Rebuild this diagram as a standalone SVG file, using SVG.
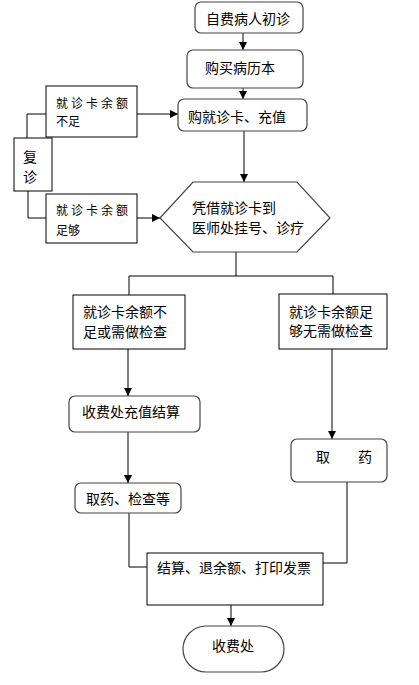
<svg xmlns="http://www.w3.org/2000/svg" width="419" height="685" viewBox="0 0 419 685">
<defs>
<marker id="ah" markerWidth="8" markerHeight="8" refX="8" refY="4" orient="auto" markerUnits="userSpaceOnUse">
<path d="M0,0 L8,4 L0,8 Z" fill="#000"/>
</marker>
<style>
text{font-family:"Noto Sans CJK SC","Noto Sans CJK JP",sans-serif;font-size:14px;fill:#000}
.b{fill:#fff;stroke:#000;stroke-width:1}
.r{fill:#fff;stroke:#444;stroke-width:1.2}
.c{fill:none;stroke:#000;stroke-width:1}
.s{font-size:12px}
.sp{letter-spacing:3px}
</style>
</defs>
<rect width="419" height="685" fill="#fff"/>
<g id="connectors">
<line class="c" x1="243" y1="33" x2="243" y2="50" marker-end="url(#ah)"/>
<line class="c" x1="243" y1="88" x2="243" y2="99" marker-end="url(#ah)"/>
<line class="c" x1="137" y1="114" x2="178" y2="114" marker-end="url(#ah)"/>
<polyline class="c" points="27,138 27,114 46,114"/>
<polyline class="c" points="28,191 28,218 46,218"/>
<line class="c" x1="137" y1="218" x2="160" y2="218" marker-end="url(#ah)"/>
<line class="c" x1="244" y1="131" x2="244" y2="182" marker-end="url(#ah)"/>
<polyline class="c" points="236,252 236,276"/>
<polyline class="c" points="129,295 129,276 333,276 333,294"/>
<line class="c" x1="128" y1="349" x2="128" y2="396" marker-end="url(#ah)"/>
<line class="c" x1="128" y1="432" x2="128" y2="483" marker-end="url(#ah)"/>
<line class="c" x1="332" y1="349" x2="332" y2="439" marker-end="url(#ah)"/>
<polyline class="c" points="347,482 347,563 323,563"/>
<polyline class="c" points="129,513 129,567 147,567"/>
<line class="c" x1="231" y1="605" x2="231" y2="626" marker-end="url(#ah)"/>
</g>
<g id="n1"><rect class="r" x="195" y="2" width="108" height="31" rx="6"/><text x="206" y="24">自费病人初诊</text></g>
<g id="n2"><rect class="r" x="187" y="50" width="116" height="38" rx="6"/><text x="205" y="73">购买病历本</text></g>
<g id="n3"><rect class="r" x="178" y="99" width="129" height="32" rx="6"/><text x="188" y="122">购就诊卡、充值</text></g>
<g id="n4"><rect class="b" x="46" y="86" width="91" height="51"/><text class="s sp" x="56" y="108">就诊卡余额</text><text class="s" x="56" y="126">不足</text></g>
<g id="n5"><rect class="b" x="14" y="138" width="38" height="53"/><text x="23" y="162">复</text><text x="23" y="182">诊</text></g>
<g id="n6"><rect class="b" x="46" y="194" width="91" height="49"/><text class="s sp" x="56" y="215">就诊卡余额</text><text class="s" x="56" y="235">足够</text></g>
<g id="n7"><polygon class="r" points="160,218 193,182 297,182 330,218 297,252 193,252"/><text x="192" y="213">凭借就诊卡到</text><text x="192" y="233">医师处挂号、诊疗</text></g>
<g id="n8"><rect class="b" x="73" y="295" width="112" height="54"/><text x="83" y="317">就诊卡余额不</text><text x="83" y="337">足或需做检查</text></g>
<g id="n9"><rect class="b" x="279" y="294" width="108" height="55"/><text x="289" y="317">就诊卡余额足</text><text x="289" y="336">够无需做检查</text></g>
<g id="n10"><rect class="r" x="69" y="396" width="131" height="36" rx="6"/><text x="82" y="417">收费处充值结算</text></g>
<g id="n11"><rect class="r" x="291" y="439" width="96" height="43" rx="6"/><text x="316" y="462">取</text><text x="358" y="462">药</text></g>
<g id="n12"><rect class="r" x="75" y="483" width="106" height="30" rx="6"/><text x="86" y="504">取药、检查等</text></g>
<g id="n13"><rect class="b" x="147" y="553" width="176" height="52"/><text x="157" y="573">结算、退余额、打印发票</text></g>
<g id="n14"><rect class="r" x="183" y="626" width="101" height="46" rx="23"/><text x="233" y="651" text-anchor="middle">收费处</text></g>
</svg>
